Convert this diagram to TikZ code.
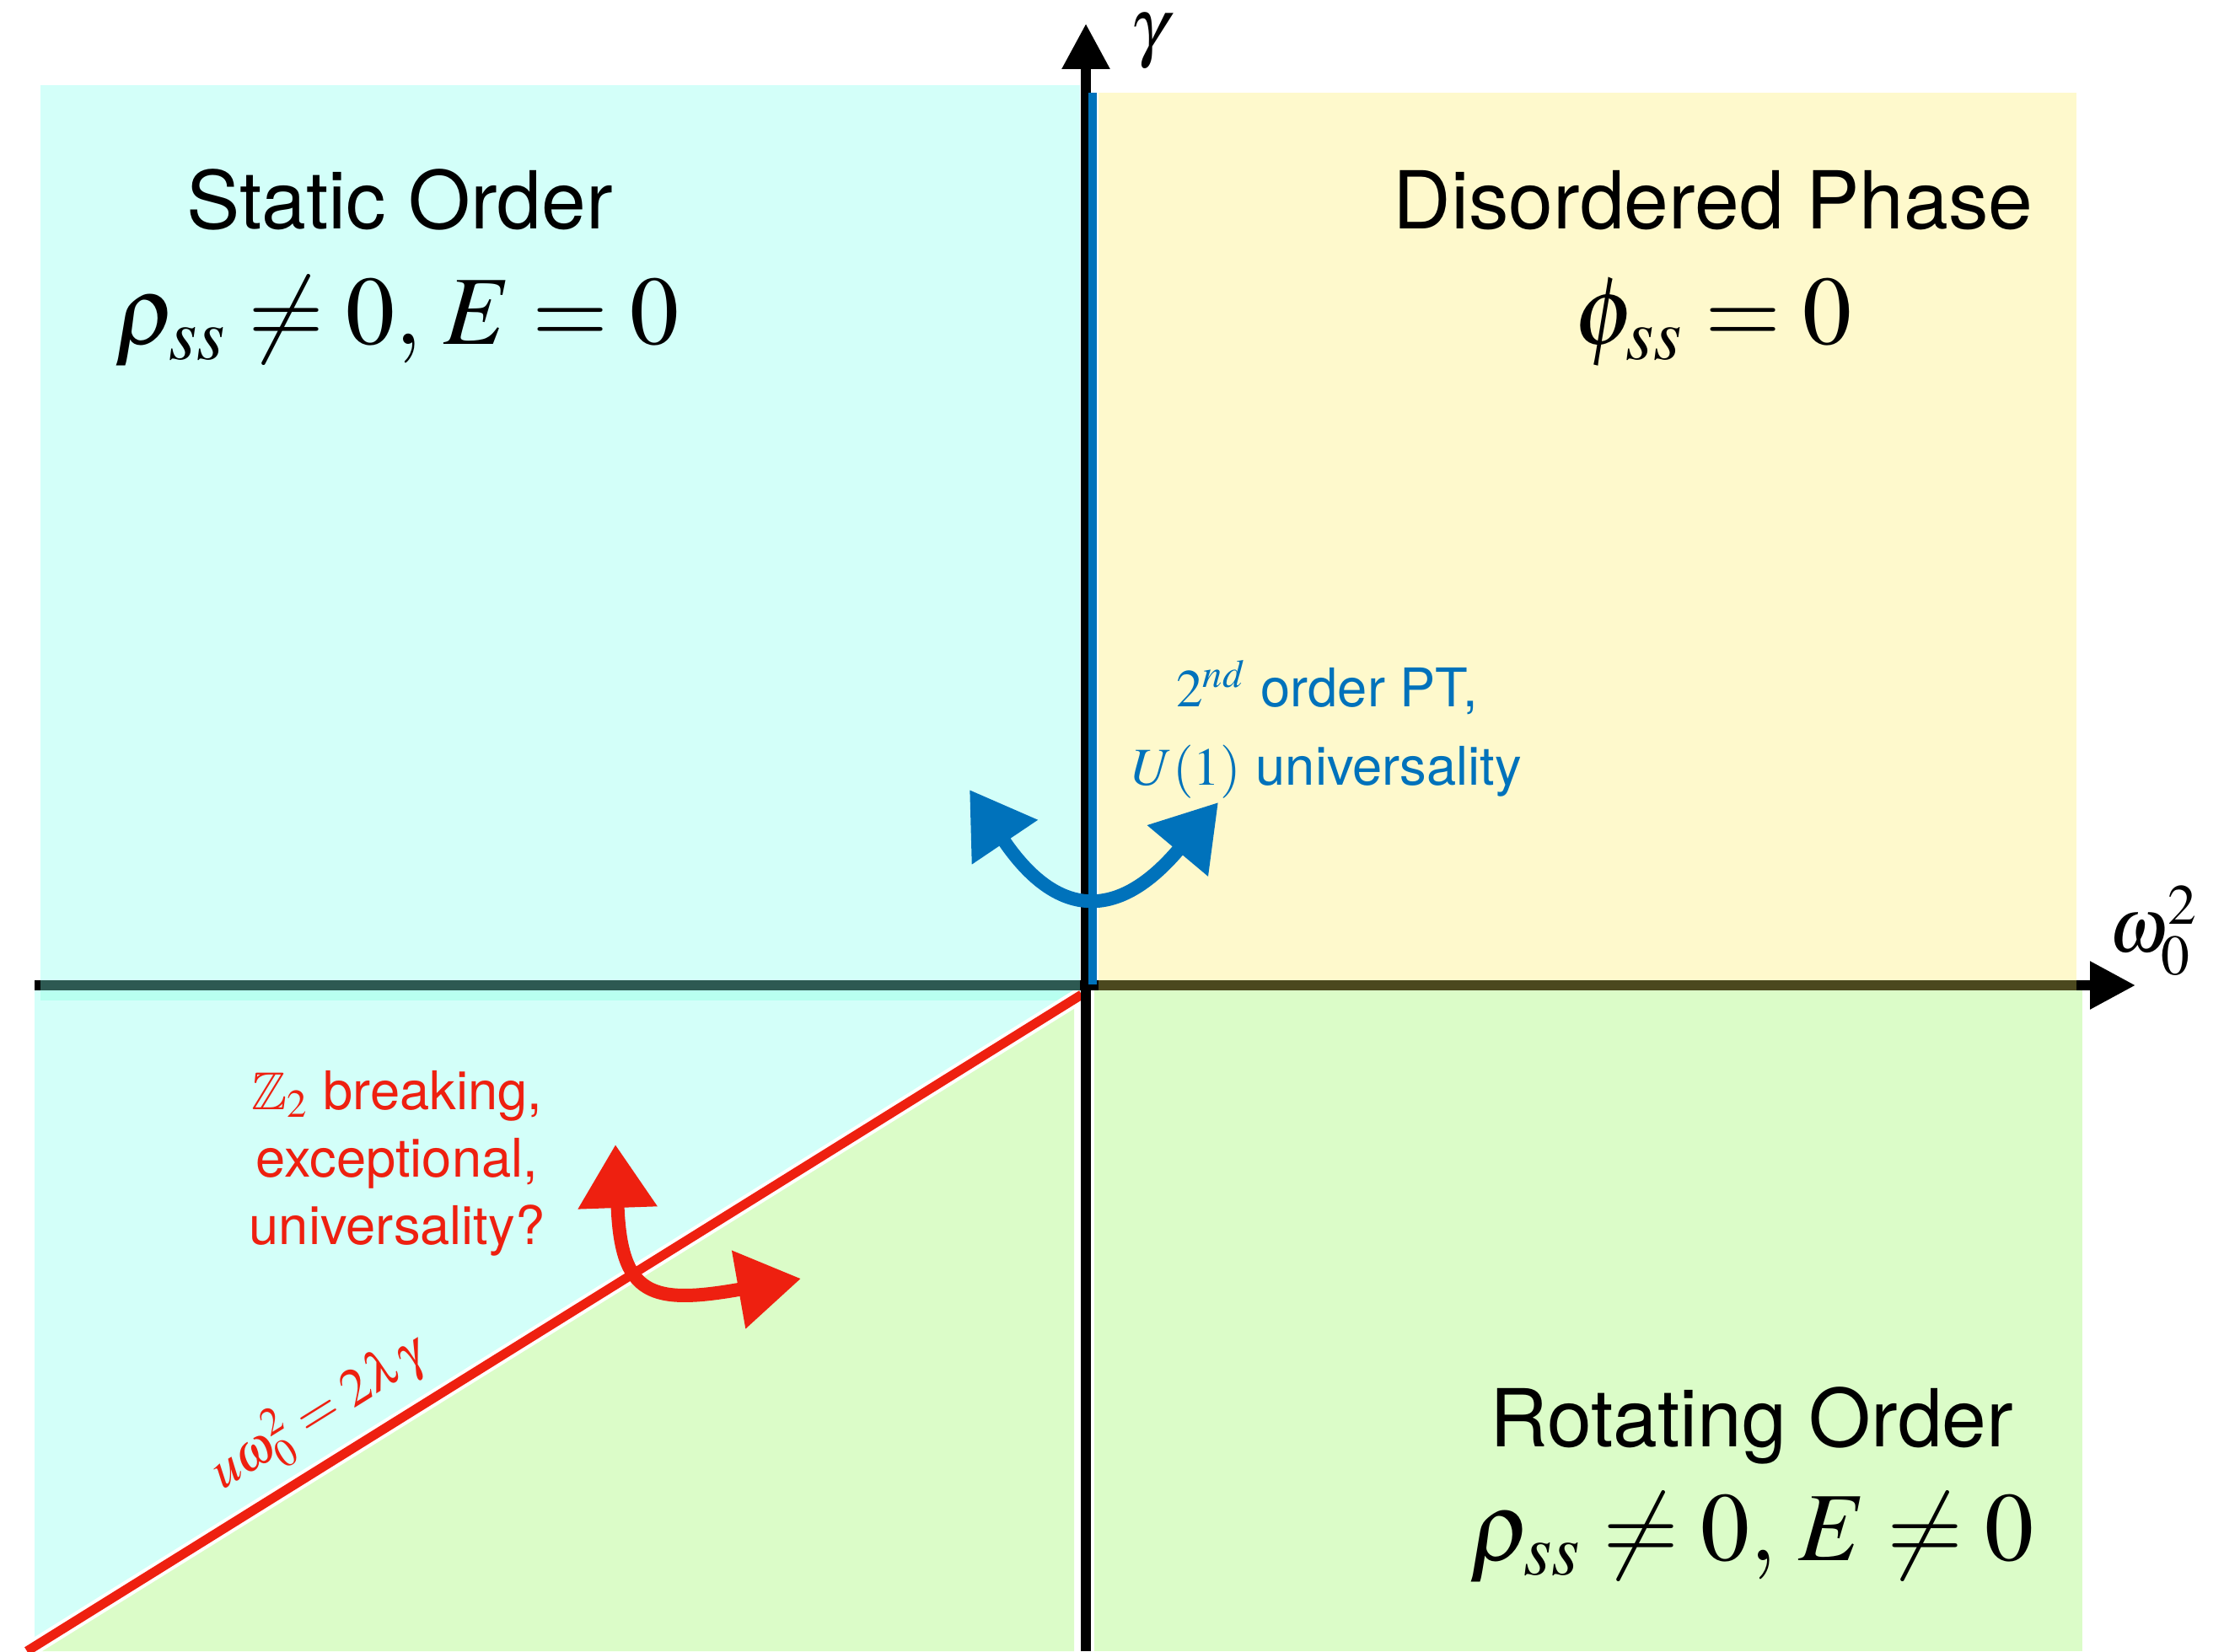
\documentclass[tikz,border=0pt]{standalone}
\usepackage{amssymb}
\usepackage{mathptmx}
\usepackage[no-math]{fontspec}
\setmainfont{TeX Gyre Heros}
\usepackage{tikz}
\usetikzlibrary{arrows.meta}
\definecolor{staticbg}{RGB}{211,255,249}
\definecolor{disorderbg}{RGB}{254,249,204}
\definecolor{rotatebg}{RGB}{219,252,200}
\definecolor{stripbg}{RGB}{184,255,240}
\definecolor{ptblue}{RGB}{0,114,187}
\definecolor{ptred}{RGB}{238,32,16}

\begin{document}
\begin{tikzpicture}[
x=1cm,
y=1cm,
title/.style={font=\fontsize{27}{32}\selectfont,anchor=base,inner sep=0pt},
order/.style={font=\fontsize{33}{40}\selectfont,anchor=base,inner sep=0pt},
axislabel/.style={font=\fontsize{26}{30}\selectfont,inner sep=0pt},
note/.style={align=center,inner sep=0pt},
axisline/.style={line width=1.2mm,-{Triangle[length=5.4mm,width=5.4mm]}},
handarr/.style={line width=1.6mm,{Triangle[length=7.5mm,width=9mm]}-{Triangle[length=7.5mm,width=9mm]}}
]
\useasboundingbox (0,0) rectangle (26.38,19.59);
\coordinate (origin) at (12.88,7.90);
\coordinate (ybot) at (12.88,0);
\coordinate (ytip) at (12.88,19.31);
\coordinate (xleft) at (0.41,7.90);
\coordinate (xtip) at (25.33,7.90);
\coordinate (redtop) at (12.83,7.79);
\coordinate (redbot) at (0.32,0);

\fill[staticbg] (0.48,7.72) rectangle (12.81,18.58);
\fill[staticbg] (0.41,7.84) -- (12.83,7.84) -- (12.83,7.79) -- (0.41,0.06) -- cycle;
\fill[stripbg] (0.48,7.72) rectangle (12.81,7.84);
\fill[disorderbg] (13.03,7.96) rectangle (24.63,18.49);
\fill[rotatebg] (12.98,0) rectangle (24.70,7.87);
\fill[rotatebg] (0.32,0) -- (12.74,7.73) -- (12.74,0) -- cycle;

\draw[white,line width=1.9mm] (redtop) -- (redbot);
\draw[ptred,line width=1.1mm] (redtop) -- node[pos=0.70,sloped,above=1.5mm,inner sep=0pt,font=\fontsize{18}{22}\selectfont] (critline) {$u\omega_0^2=2\lambda\gamma$} (redbot);

\draw[axisline] (ybot) -- (ytip);
\draw[axisline] (xleft) -- (xtip);
\fill[fill={rgb,255:red,130;green,255;blue,235},opacity=0.35] (0.48,7.84) rectangle (12.81,7.96);
\fill[fill={rgb,255:red,250;green,240;blue,100},opacity=0.3] (13.03,7.84) rectangle (24.63,7.96);
\draw[ptblue,line width=1mm] (12.96,7.91) -- (12.96,18.49);

\node[axislabel] (gam) at (13.63,19.10) {$\gamma$};
\node[axislabel] (omg) at (25.54,8.55) {$\omega_0^2$};

\node[title] (statictitle) at (4.74,16.87) {Static Order};
\node[order] (staticeq) at (4.71,15.50) {$\rho_{ss}\neq 0,\,E=0$};
\node[title] (distitle) at (20.32,16.87) {Disordered Phase};
\node[order] (diseq) at (20.32,15.50) {$\phi_{ss}=0$};
\node[title] (rottitle) at (20.78,2.43) {Rotating Order};
\node[order] (roteq) at (20.78,1.08) {$\rho_{ss}\neq 0,\,E\neq 0$};

\node[note,text=ptblue,font=\fontsize{18}{26.4}\selectfont] (u1note) at (15.74,10.94) {$2^{nd}$ order PT,\\$U(1)$ universality};
\node[note,text=ptred,font=\fontsize{18}{22.8}\selectfont] (z2note) at (4.71,5.79) {$\mathbb{Z}_2$ breaking,\\exceptional,\\universality?};

\coordinate (bl) at (11.50,10.22);
\coordinate (br) at (14.45,10.07);
\draw[handarr,ptblue] (bl) to[out=-56,in=230,looseness=1.6] (br);
\coordinate (rl) at (7.30,6.01);
\coordinate (rr) at (9.50,4.42);
\draw[handarr,ptred] (rl) to[out=-88,in=190,looseness=1.7] (rr);
\end{tikzpicture}
\end{document}
